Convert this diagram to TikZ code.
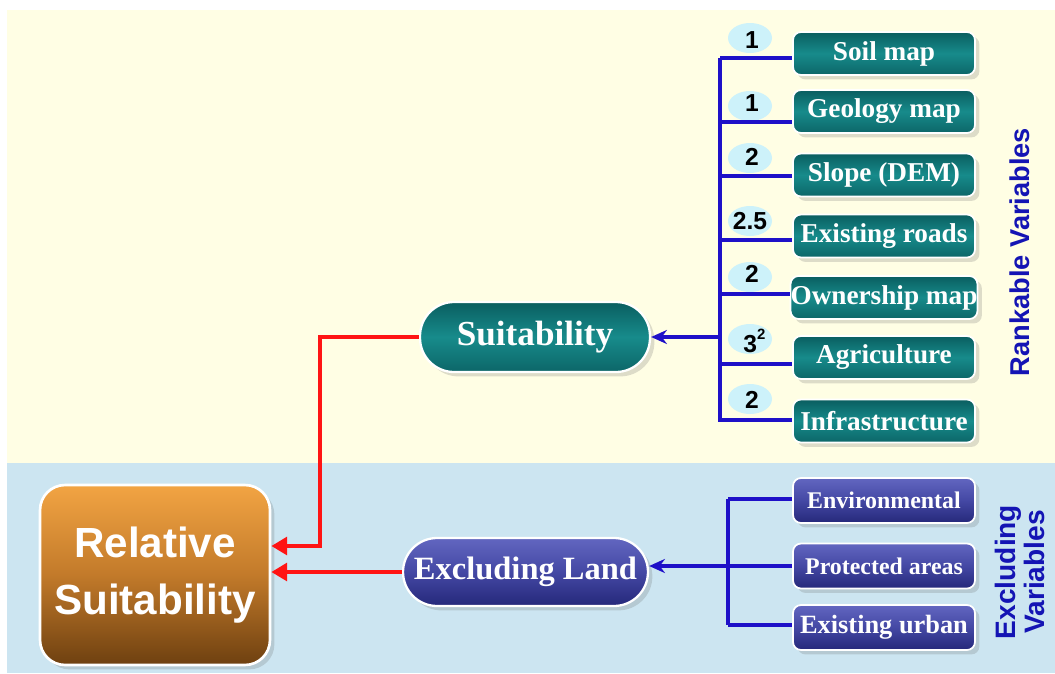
\documentclass[tikz,border=0pt]{standalone}
\usepackage{fontspec}
\setmainfont{Liberation Serif}
\newfontfamily\arialf{Liberation Sans}
\usetikzlibrary{arrows.meta,shadows,shapes.geometric}
\definecolor{bgy}{HTML}{FFFEE4}
\definecolor{bgb}{HTML}{CCE5F1}
\definecolor{tealA}{HTML}{0A5E60}
\definecolor{tealB}{HTML}{178B8B}
\definecolor{tealC}{HTML}{0C6668}
\definecolor{purA}{HTML}{6266C0}
\definecolor{purB}{HTML}{4448A4}
\definecolor{purC}{HTML}{25287A}
\definecolor{orA}{HTML}{F2A443}
\definecolor{orB}{HTML}{C27A2A}
\definecolor{orC}{HTML}{6E4010}
\definecolor{lnblue}{HTML}{1E10C8}
\definecolor{lnred}{HTML}{FF1414}
\definecolor{badgec}{HTML}{CDF2FA}
\definecolor{lblblue}{HTML}{1414B4}
\begin{document}
\begin{tikzpicture}[x=0.02cm,y=-0.02cm,
  shad/.style={drop shadow={opacity=0.22,shadow xshift=2.5pt,shadow yshift=-2.5pt,fill=black!60}},
  tealbox/.style={rectangle,rounded corners=0.16cm,minimum width=3.64cm,minimum height=0.86cm,
    inner sep=0pt,top color=tealA,bottom color=tealC,middle color=tealB,draw=white,line width=1pt,
    shad,text=white,font=\bfseries\fontsize{15.5}{18}\selectfont},
  purbox/.style={rectangle,rounded corners=0.16cm,minimum width=3.64cm,minimum height=0.9cm,
    inner sep=0pt,top color=purA,bottom color=purC,middle color=purB,draw=white,line width=1pt,
    shad,text=white,font=\bfseries\fontsize{13.6}{16}\selectfont},
  pill/.style={rectangle,rounded corners=0.68cm,inner sep=0pt,draw=white,line width=1.3pt,shad,
    text=white,font=\bfseries\fontsize{20}{24}\selectfont},
  badge/.style={ellipse,fill=badgec,minimum width=0.88cm,minimum height=0.6cm,inner sep=0pt},
  badgetxt/.style={font=\arialf\bfseries\fontsize{14}{16}\selectfont,text=black,inner sep=0pt},
  bl/.style={draw=lnblue,line width=2pt},
  blarrow/.style={bl,-{Stealth[length=9pt,width=8pt]}},
  rd/.style={draw=lnred,line width=2.8pt,-{Triangle[length=9pt,width=10pt]}},
  vlabel/.style={rotate=90,text=lblblue,font=\arialf\bfseries\fontsize{15.5}{18}\selectfont,align=center}
]
\useasboundingbox (0,0) rectangle (1055,673);
\fill[white] (0,0) rectangle (1055,673);
\fill[bgy] (7,10) rectangle (1055,463);
\fill[bgb] (7,463) rectangle (1055,673);

% main nodes
\node[rectangle,rounded corners=0.5cm,minimum width=4.6cm,minimum height=3.6cm,
  top color=orA,bottom color=orC,middle color=orB,draw=white,line width=1.5pt,shad,
  text=white,align=center,font=\arialf\bfseries\fontsize{24}{32}\selectfont]
  (rel) at (155,575) {Relative\\Suitability};
\node[pill,minimum width=4.6cm,minimum height=1.4cm,top color=tealA,bottom color=tealC,middle color=tealB]
  (suit) at (535,337) {Suitability};
\node[pill,minimum width=4.9cm,minimum height=1.36cm,top color=purA,bottom color=purC,middle color=purB,
  font=\bfseries\fontsize{18.5}{22}\selectfont]
  (excl) at (525.5,572) {Excluding Land};

% rankable variables
\node[tealbox] (soil)  at (884,53.5)  {Soil map};
\node[tealbox] (geo)   at (884,111.5) {Geology map};
\node[tealbox] (slope) at (884,175)   {Slope (DEM)};
\node[tealbox] (roads) at (884,236)   {Existing roads};
\node[tealbox] (own)   at (884,297.5) {Ownership map};
\node[tealbox] (agri)  at (884,357.5) {Agriculture};
\node[tealbox] (infra) at (884,421)   {Infrastructure};

% excluding variables
\node[purbox] (env)   at (884,500.5) {Environmental};
\node[purbox] (prot)  at (884,566)   {Protected areas};
\node[purbox,font=\bfseries\fontsize{15}{18}\selectfont] (urban) at (884,627.5) {Existing urban};

% badges
\node[badge] (bg1) at (750,38) {};  \node[badgetxt] (t1) at (752,40) {1};
\node[badge] (bg2) at (750,106) {}; \node[badgetxt] (t2) at (752,103) {1};
\node[badge] (bg3) at (750,158) {}; \node[badgetxt] (t3) at (752,157) {2};
\node[badge] (bg4) at (750,221) {}; \node[badgetxt] (t4) at (750,221) {2.5};
\node[badge] (bg5) at (750,277) {}; \node[badgetxt] (t5) at (752,274) {2};
\node[badge] (bg6) at (750,339) {}; \node[badgetxt,anchor=base west] (t6) at (743,352) {3\raisebox{7pt}{\fontsize{8.5}{9}\selectfont 2}};
\node[badge] (bg7) at (750,399) {}; \node[badgetxt] (t7) at (752,400) {2};

% rotated labels
\node[vlabel] (rlab) at (1020,252) {Rankable Variables};
\node[vlabel,font=\arialf\bfseries\fontsize{16}{17}\selectfont] (elab) at (1020,572) {Excluding\\Variables};

% blue connectors: rankable
\coordinate (btop) at (720,58);
\coordinate (bbot) at (720,422);
\draw[bl] (btop) -- (bbot);
\draw[bl] (btop) -- (btop -| soil.west);
\draw[bl] (720,122) -- (geo.west |- 720,122);
\draw[bl] (720,176) -- (slope.west |- 720,176);
\draw[bl] (720,240) -- (roads.west |- 720,240);
\draw[bl] (720,294) -- (own.west |- 720,294);
\draw[bl] (720,364) -- (agri.west |- 720,364);
\draw[bl] (720,420) -- (infra.west |- 720,420);
\coordinate (bmid) at (suit.east -| btop);
\draw[blarrow] (bmid) -- (suit.east);

% blue connectors: excluding
\coordinate (etop) at (728,499);
\coordinate (ebot) at (728,625);
\draw[bl] (etop) -- (ebot);
\draw[bl] (etop) -- (etop -| env.west);
\draw[bl] (ebot) -- (ebot -| urban.west);
\draw[blarrow] (prot.west) -- (prot.west -| excl.east);

% red connectors
\coordinate (rc) at (320,546);
\draw[rd] (suit.west) -| (rc) -- (rc -| rel.east);
\draw[rd] (excl.west) -- (excl.west -| rel.east);
\end{tikzpicture}
\end{document}
